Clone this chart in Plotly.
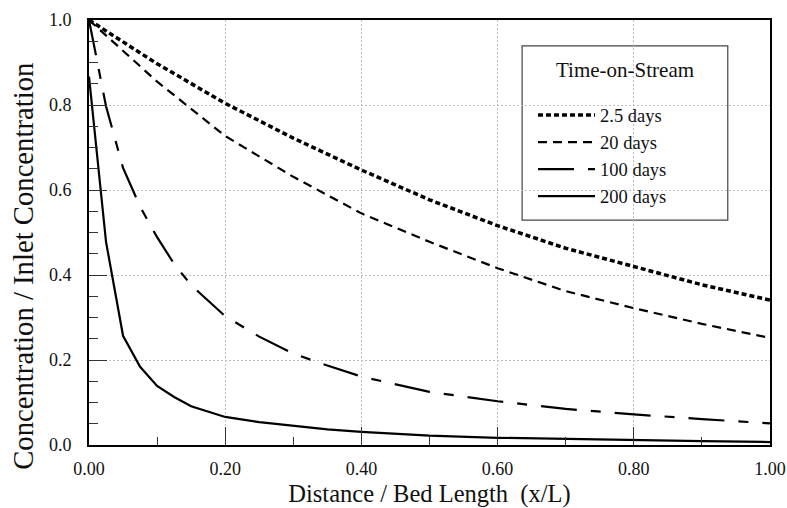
import plotly.graph_objects as go

# ---- data ----
x_coarse = [0.0, 0.1, 0.2, 0.3, 0.4, 0.5, 0.6, 0.7, 0.8, 0.9, 1.0]
x_fine = [0.0, 0.025, 0.05, 0.075, 0.1, 0.125, 0.15, 0.2, 0.25, 0.3,
          0.35, 0.4, 0.5, 0.6, 0.7, 0.8, 0.9, 1.0]

c_2p5 = [1.0, 0.897, 0.804, 0.722, 0.647, 0.577, 0.516, 0.463, 0.420, 0.377, 0.341]
c_20 = [1.0, 0.855, 0.727, 0.631, 0.545, 0.478, 0.416, 0.362, 0.322, 0.285, 0.252]
c_100 = [1.0, 0.797, 0.652, 0.561, 0.489, 0.426, 0.376, 0.303, 0.255, 0.215,
         0.187, 0.161, 0.125, 0.103, 0.085, 0.072, 0.061, 0.051]
c_200 = [0.867, 0.478, 0.257, 0.184, 0.139, 0.113, 0.091, 0.066, 0.054, 0.045,
         0.037, 0.031, 0.022, 0.017, 0.014, 0.011, 0.009, 0.007]

series_names = ["2.5 days", "20 days", "100 days", "200 days"]
legend_title = "Time-on-Stream"
x_title = "Distance / Bed Length  (x/L)"
y_title = "Concentration / Inlet Concentration"

FONT = "Liberation Serif"
INK = "#111111"

fig = go.Figure()
styles = [
    dict(width=3.5, dash="5px,3px"),
    dict(width=2.2, dash="9px,6px"),
    dict(width=2.2, dash="36px,14px,10px,14px"),
    dict(width=2.2, dash="solid"),
]
data = [(x_coarse, c_2p5), (x_coarse, c_20), (x_fine, c_100), (x_fine, c_200)]
for name, (xs, ys), st in zip(series_names, data, styles):
    fig.add_trace(go.Scatter(
        x=xs, y=ys, mode="lines", name=name, legendgroup=name,
        line=dict(color="black", width=st["width"], dash=st["dash"]),
    ))

# legend frame and title
fig.add_shape(type="rect", xref="paper", yref="paper",
              x0=0.636, x1=0.938, y0=0.529, y1=0.939,
              line=dict(color="#444444", width=1.2), fillcolor="white", layer="below")
fig.add_annotation(text=legend_title, xref="paper", yref="paper",
                   x=0.787, y=0.882, showarrow=False,
                   font=dict(family=FONT, size=21, color=INK),
                   xanchor="center", yanchor="middle")

# y-axis title (placed as rotated text, as in the reference it sits low)
fig.add_annotation(text=y_title, xref="paper", yref="paper",
                   x=-0.098, y=0.42, showarrow=False, textangle=-90,
                   font=dict(family=FONT, size=28.7, color=INK),
                   xanchor="center", yanchor="middle")

axis_common = dict(
    showline=True, linecolor="black", linewidth=2, mirror=True,
    ticks="inside", ticklen=18, tickwidth=1.2, tickcolor="#333333",
    showgrid=True, gridcolor="#bdbdbd", gridwidth=1, griddash="2px,2px",
    zeroline=False,
    tickfont=dict(family=FONT, size=18, color=INK),
)

fig.update_layout(
    width=787, height=508,
    margin=dict(l=89, r=17, t=20, b=63, autoexpand=False),
    paper_bgcolor="white", plot_bgcolor="white",
    font=dict(family=FONT, color=INK),
    xaxis=dict(
        range=[0, 1.0], dtick=0.2, tick0=0, tickformat=".2f",
        minor=dict(dtick=0.1, ticklen=8, ticks="inside", tickcolor="#333333",
                   showgrid=False),
        title=dict(text=x_title, font=dict(family=FONT, size=24.5, color=INK), standoff=8),
        ticklabelstandoff=6,
        **axis_common,
    ),
    yaxis=dict(
        range=[0, 1.0], dtick=0.2, tick0=0, tickformat=".1f",
        minor=dict(dtick=0.05, ticklen=9, ticks="inside", tickcolor="#333333",
                   showgrid=False),
        ticklabelstandoff=12,
        **axis_common,
    ),
    showlegend=True,
    legend=dict(
        x=0.652, y=0.82, xanchor="left", yanchor="top",
        bgcolor="rgba(0,0,0,0)", borderwidth=0,
        font=dict(family=FONT, size=18.5, color=INK),
        itemwidth=57, tracegroupgap=0,
    ),
)

fig.write_html(
    "out.html",
    config={"displayModeBar": False},
    post_script="document.body.style.margin='0';document.body.style.overflow='hidden';",
)
